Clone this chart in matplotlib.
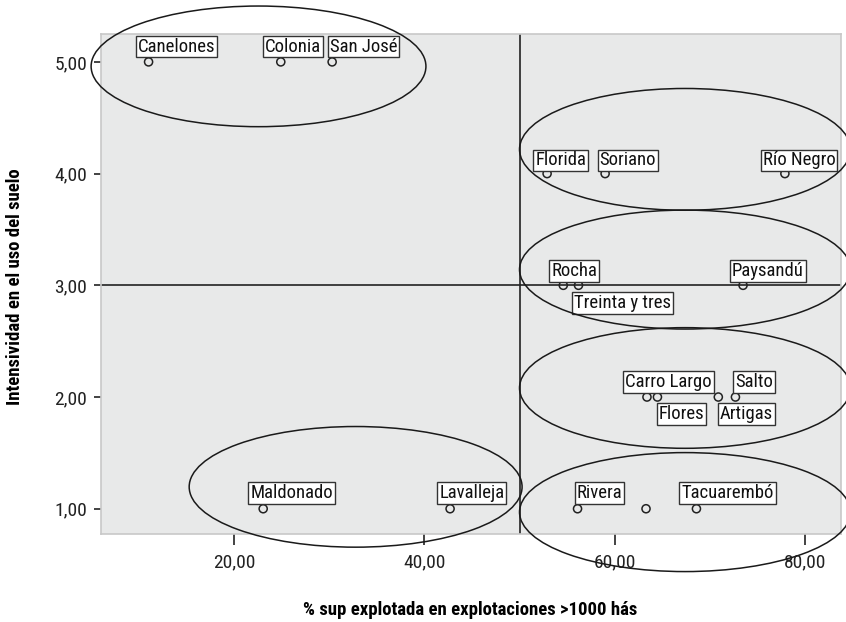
import matplotlib
matplotlib.use("Agg")
import matplotlib.pyplot as plt
from matplotlib.patches import Ellipse
from matplotlib.ticker import FuncFormatter

plt.rcParams['font.family'] = ['Roboto Condensed', 'DejaVu Sans']

# departamentos: % superficie en explotaciones >1000 ha vs intensidad de uso
names = ["Canelones", "Colonia", "San José",
         "Florida", "Soriano", "Río Negro",
         "Rocha", "Treinta y tres", "Paysandú",
         "Carro Largo", "Flores", "Artigas", "Salto",
         "Maldonado", "Lavalleja", "Rivera", "", "Tacuarembó"]
pct_sup = [11.0, 24.9, 30.3,
           52.9, 59.0, 77.9,
           54.6, 56.2, 73.5,
           63.4, 64.5, 70.9, 72.7,
           23.05, 42.7, 56.1, 63.3, 68.6]
intensidad = [5, 5, 5,
              4, 4, 4,
              3, 3, 3,
              2, 2, 2, 2,
              1, 1, 1, 1, 1]

x_ref = 50
y_ref = 3

# label box offsets in pixels (box corner), positive = above point
label_off = {
    "Canelones": (-13, 4.4), "Colonia": (-18, 4.4), "San José": (-4, 4.4),
    "Florida": (-13.7, 2.3), "Soriano": (-7.6, 2.3), "Río Negro": (-24, 2.3),
    "Rocha": (-14, 3.3), "Treinta y tres": (-6, -6.7), "Paysandú": (-13, 3.3),
    "Carro Largo": (-23.7, 4), "Flores": (-0.6, -6), "Artigas": (-0.6, -6),
    "Salto": (-2.4, 4),
    "Maldonado": (-14.7, 4.7), "Lavalleja": (-12.7, 4.7), "Rivera": (-3, 4.7),
    "Tacuarembó": (-17, 4.7),
}

# group ellipses (cx, cy, w, h) in data units
groups = [(22.56, 4.96, 35.2, 1.08),
          (67.4, 4.217, 34.8, 1.09),
          (67.4, 3.141, 34.8, 1.065),
          (67.4, 2.081, 34.8, 1.08),
          (67.4, 0.970, 34.8, 1.065),
          (32.77, 1.196, 35.0, 1.08)]

fig = plt.figure(figsize=(8.46, 6.22), dpi=100)
ax = fig.add_axes([0.1194, 0.1415, 0.8747, 0.8039])
ax.set_facecolor("#e8e9e9")
for s in ax.spines.values():
    s.set_color("#c8c8c8")
    s.set_linewidth(1.2)
ax.set_xlim(6.0, 83.8)
ax.set_ylim(0.774, 5.25)

ax.axvline(x_ref, color="#222222", lw=1.2, zorder=2)
ax.axhline(y_ref, color="#222222", lw=1.2, zorder=2)

ax.scatter(pct_sup, intensidad, s=34, facecolors="none", edgecolors="#222222",
           linewidths=1.1, zorder=4)

fs = 13.5
pad_px = 0.1 * fs * 100 / 72
for n, xv, yv in zip(names, pct_sup, intensidad):
    if not n:
        continue
    dx, dy = label_off[n]
    if dy >= 0:
        va = "bottom"
        oy = dy + pad_px
    else:
        va = "top"
        oy = dy - pad_px
    ax.annotate(n, (xv, yv), xytext=(dx + pad_px, oy), textcoords="offset pixels",
                ha="left", va=va, fontsize=fs, color="#111111", zorder=5,
                bbox=dict(boxstyle="square,pad=0.1", fc="white", ec="#333333", lw=1.0))

for cx, cy, w, h in groups:
    e = Ellipse((cx, cy), w, h, fill=False, ec="#1a1a1a", lw=1.1, clip_on=False, zorder=6)
    ax.add_patch(e)

fmt = FuncFormatter(lambda v, p: f"{v:.2f}".replace(".", ","))
ax.set_xticks([20, 40, 60, 80])
ax.set_yticks([1, 2, 3, 4, 5])
ax.xaxis.set_major_formatter(fmt)
ax.yaxis.set_major_formatter(fmt)
ax.tick_params(axis="x", length=8, width=1.2, pad=6, labelsize=14, colors="#222222")
ax.tick_params(axis="y", length=5, width=1.2, pad=5, labelsize=14, colors="#222222")

ax.set_xlabel("% sup explotada en explotaciones >1000 hás", fontsize=13.5,
              fontweight="bold")
ax.set_ylabel("Intensividad en el uso del suelo", fontsize=13.5,
              fontweight="bold")
ax.xaxis.label.set_va("center")
ax.yaxis.label.set_va("center")
ax.xaxis.set_label_coords(0.4986, -0.152)
ax.yaxis.set_label_coords(-0.116, 0.494)

fig.savefig("out.png", dpi=100)
